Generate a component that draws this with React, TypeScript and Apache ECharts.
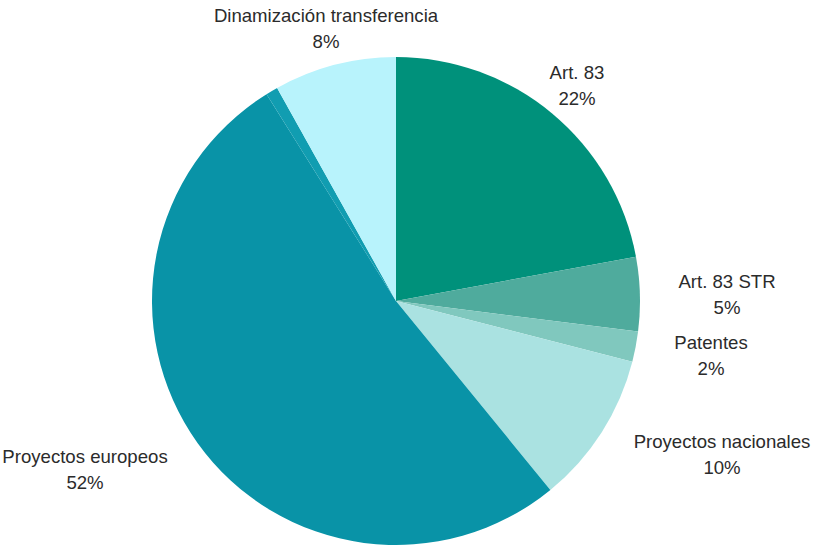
import React, { useEffect, useRef } from "react";
import * as echarts from "echarts";

const categories = [
  "Art. 83",
  "Art. 83 STR",
  "Patentes",
  "Proyectos nacionales",
  "Proyectos europeos",
  "Otros",
  "Dinamización transferencia",
];
const values = [22.1, 4.9, 2.0, 10.1, 52.0, 0.8, 8.1];
const colors = ["#00917B", "#4FAB9D", "#80C8BE", "#AAE2E1", "#0993A7", "#119DB1", "#B8F3FC"];
const showLabel = [true, true, true, true, true, false, true];
// label centres (layout only)
const labelPos: [number, number][] = [
  [577, 85],
  [727, 294.5],
  [711, 355.5],
  [722, 454],
  [85, 469.5],
  [0, 0],
  [326, 28.5],
];

export default function App() {
  const ref = useRef<HTMLDivElement>(null);
  useEffect(() => {
    if (!ref.current) return;
    const chart = echarts.init(ref.current, undefined, { renderer: "svg" });
    chart.setOption({
      animation: false,
      backgroundColor: "#ffffff",
      series: [
        {
          type: "pie",
          center: [396, 301],
          radius: 244,
          startAngle: 90,
          clockwise: true,
          avoidLabelOverlap: false,
          emphasis: { disabled: true },
          itemStyle: { borderWidth: 0 },
          label: {
            show: true,
            position: "outside",
            formatter: (p: any) => `${p.name}\n${Math.round(p.percent)}%`,
            fontFamily: "Liberation Sans, Arial, sans-serif",
            fontSize: 18.6,
            lineHeight: 26,
            color: "#2b2b2b",
            align: "center",
          },
          labelLine: { show: false },
          labelLayout: (params: any) => {
            const p = labelPos[params.dataIndex];
            return { x: p[0], y: p[1], align: "center", verticalAlign: "middle" };
          },
          data: categories.map((name, i) => ({
            name,
            value: values[i],
            itemStyle: { color: colors[i] },
            label: { show: showLabel[i] },
          })),
        },
      ],
    });
    return () => chart.dispose();
  }, []);
  return (
    <div
      ref={ref}
      style={{ position: "absolute", left: 0, top: 0, width: 814, height: 547 }}
    />
  );
}
